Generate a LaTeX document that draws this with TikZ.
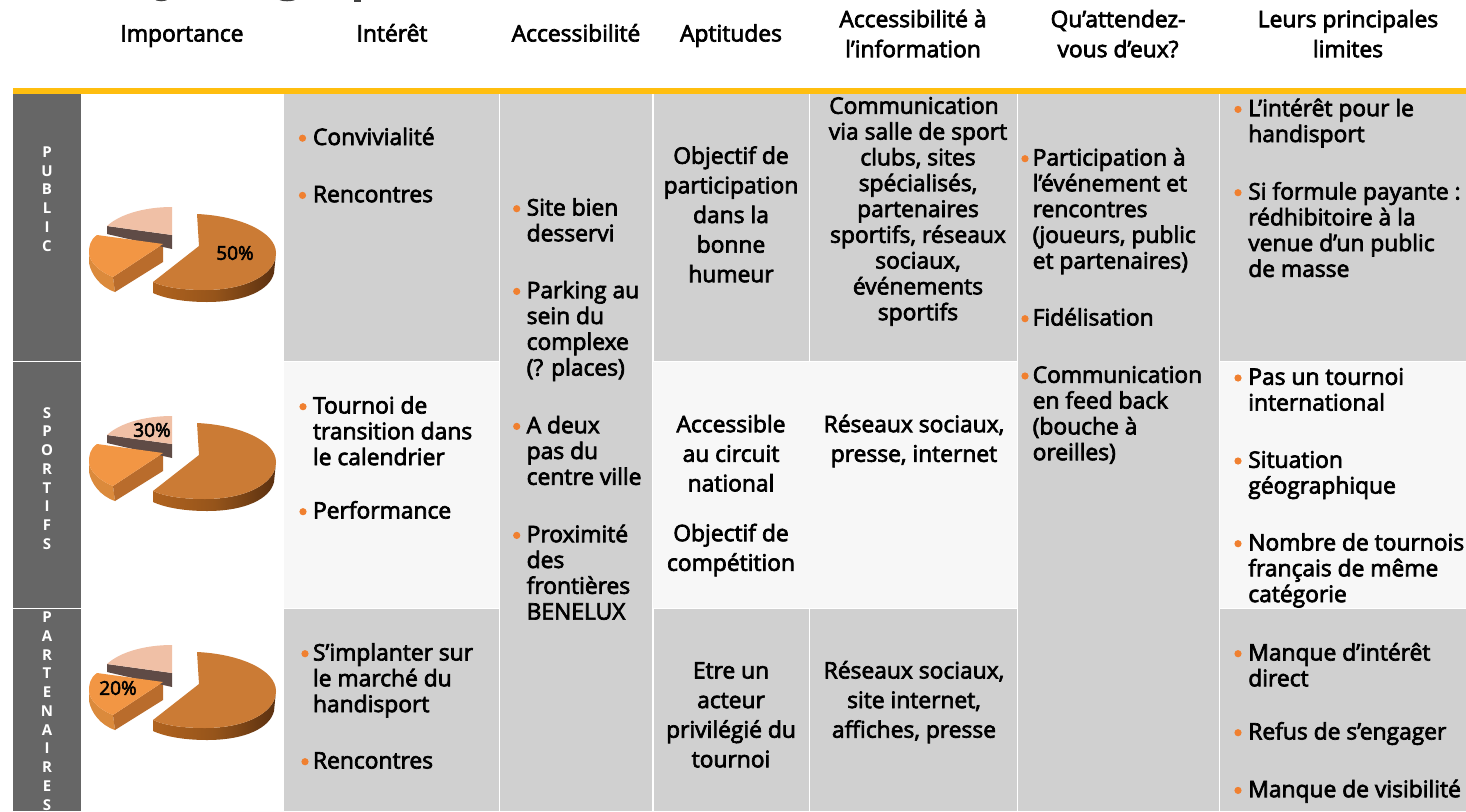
\documentclass[tikz,border=0pt]{standalone}
\usepackage{fontspec}
\setmainfont[FakeBold=3]{Open Sans}
\newfontfamily\boldface{Open Sans Bold}
\usetikzlibrary{calc}
\definecolor{cellgrey}{HTML}{D0D0D0}
\definecolor{celllight}{HTML}{F7F7F7}
\definecolor{band}{HTML}{666666}
\definecolor{goldbar}{HTML}{FFBE0F}
\definecolor{bul}{HTML}{F08030}
\definecolor{slA}{HTML}{CB7B35}
\definecolor{slAl}{HTML}{B0631F}
\definecolor{slAd}{HTML}{5A3010}
\definecolor{slB}{HTML}{F29644}
\definecolor{slBs}{HTML}{B96C2C}
\definecolor{slBo}{HTML}{DB8A3C}
\definecolor{slC}{HTML}{F0C0A6}
\definecolor{slCs}{HTML}{5F4B46}
\newcommand\lh[1]{\fontsize{22.8}{#1}\selectfont}
\tikzset{
  cell/.style={inner sep=0pt,outer sep=0pt,text=black},
  lefttxt/.style={cell,anchor=north west,align=left,font=\lh{25.8}},
  midtxt/.style={cell,anchor=north,align=center,font=\lh{29.6}},
  midtight/.style={cell,anchor=north,align=center,font=\lh{25.8}},
  headtxt/.style={cell,anchor=north,align=center,font=\lh{30}},
  pct/.style={cell,anchor=center,font=\fontsize{19}{20}\selectfont},
  vert/.style={cell,anchor=center,align=center,text=white,font=\boldface\fontsize{15}{18.75}\selectfont},
  gcell/.style={fill=cellgrey},
  lcell/.style={fill=celllight}
}
\newcommand\rl{\rule{0pt}{20pt}}
\newcommand\itm[5]{% name, bullet x, text x, baseline, text
  \fill[bul] (#2,#4-6.3) circle (3.6);
  \node[lefttxt] (#1) at (#3,#4-19.5) {\rl #5};}
\newcommand\ctr[5][midtxt]{% style, name, x, baseline, text
  \node[#1] (#2) at (#3,#4-19.5) {\rl #5};}
\newcommand\pieshape[1]{% offset
  \begin{scope}[shift={(0,#1)}]
    % big slice
    \path[left color=slAl,right color=slAd,middle color=slAl!85!black]
      (153,282) -- (153,293) .. controls (166,299) and (186,302) .. (207,302)
      .. controls (245,302) and (270,290) .. (274,273) -- (276,253)
      .. controls (276,275) and (245,290) .. (205,290)
      .. controls (185,290) and (166,288) .. (153,282) -- cycle;
    \fill[slA] (197,214) .. controls (240,216) and (276,232) .. (276,253)
      .. controls (276,275) and (245,290) .. (205,290)
      .. controls (185,290) and (166,288) .. (153,282) -- (199,246) -- cycle;
    % medium slice
    \fill[slBo] (89,253) .. controls (89,262) and (100,272) .. (113,277)
      -- (115,292) .. controls (100,287) and (91,274) .. (89,263) -- cycle;
    \fill[slBs] (113,277) -- (115,292) -- (163,262) -- (163,244) -- cycle;
    % small slice
    \fill[slCs] (107,226) -- (172,235) -- (172,249) -- (107,234) -- cycle;
    \fill[slC] (172,207) -- (172,235) -- (107,226)
      .. controls (120,214) and (145,207) .. (172,207) -- cycle;
    \fill[slB] (163,244) -- (97,235) .. controls (90,240) and (89,246) .. (89,253)
      .. controls (89,262) and (100,272) .. (113,277) -- cycle;
  \end{scope}}
\begin{document}
\begin{tikzpicture}[x=1pt,y=-1pt]
\useasboundingbox (0,0) rectangle (1466,811);
\fill[white] (0,0) rectangle (1466,811);
% clipped remains of the title
\begin{scope}
\clip (0,0) rectangle (1466,3);
\draw[black!75,line width=1.3] (154,-2) .. controls (156,1.5) and (166,1.5) .. (169,-2);
\draw[black!75,line width=1.3] (278,-2) .. controls (280,1.5) and (294,1.5) .. (297,-2);
\draw[black!75,line width=1.3] (354,1) -- (361,1);
\end{scope}
% left band
\fill[band] (13,94) rectangle (80.5,361);
\fill[band] (13,362) rectangle (80.5,608);
\fill[band] (13,609) rectangle (80.5,811);
% row 1 cells
\fill[gcell] (284,94) rectangle (498.5,361);
\fill[gcell] (654,94) rectangle (808.5,361);
\fill[gcell] (810,94) rectangle (1017,361);
\fill[gcell] (1220,94) rectangle (1466,361);
% row 2 cells
\fill[lcell] (284,362) rectangle (499,608);
\fill[lcell] (652.5,362) rectangle (1017,608);
\fill[lcell] (1220,362) rectangle (1466,608);
% row 3 cells
\fill[gcell] (284,609) rectangle (498.5,811);
\fill[gcell] (654,609) rectangle (808.5,811);
\fill[gcell] (810,609) rectangle (1017,811);
\fill[gcell] (1220,609) rectangle (1466,811);
% spanning cols
\fill[gcell] (500,94) rectangle (652,811);
\fill[gcell] (1018,94) rectangle (1219,811);
% gold bar
\fill[goldbar] (13,88) rectangle (1466,94);
% headers
\ctr[headtxt]{hImp}{182}{41}{Importance}
\ctr[headtxt]{hInt}{392}{41}{Intérêt}
\ctr[headtxt]{hAcc}{576}{41}{Accessibilité}
\ctr[headtxt]{hApt}{731}{41}{Aptitudes}
\ctr[headtxt]{hInf}{913}{26.7}{Accessibilité à\\l’information}
\ctr[headtxt]{hAtt}{1118}{26.7}{Qu’attendez-\\vous d’eux?}
\ctr[headtxt]{hLim}{1348}{26.7}{Leurs principales\\limites}
% band labels
\node[vert] (vPub) at (47,199) {P\\U\\B\\L\\I\\C};
\node[vert] (vSpo) at (47,478.5) {S\\P\\O\\R\\T\\I\\F\\S};
\node[vert] (vPar) at (47,711) {P\\A\\R\\T\\E\\N\\A\\I\\R\\E\\S};
% pies
\pieshape{0}
\pieshape{209}
\pieshape{438}
\node[pct] (pA) at (235,253) {50\%};
\node[pct] (pB) at (152,430) {30\%};
\node[pct] (pC) at (118,688) {20\%};
% interet
\itm{i1}{302.5}{313}{144.5}{Convivialité}
\itm{i2}{302.5}{313}{201.7}{Rencontres}
\itm{i3}{303}{313}{413}{Tournoi de\\transition dans\\le calendrier}
\itm{i4}{303}{313}{518}{Performance}
\itm{i5}{305}{313}{660}{S’implanter sur\\le marché du\\handisport}
\itm{i6}{305}{313}{768}{Rencontres}
% accessibilite
\itm{a1}{516.7}{526.7}{215}{Site bien\\desservi}
\itm{a2}{516.7}{526.7}{297.7}{Parking au\\sein du\\complexe\\(? places)}
\itm{a3}{516.7}{526.7}{432.7}{A deux\\pas du\\centre ville}
\itm{a4}{516.7}{526.7}{541.7}{Proximité\\des\\frontières\\BENELUX}
% aptitudes
\ctr{t1}{731}{163.3}{Objectif de\\participation\\dans la\\bonne\\humeur}
\ctr{t2}{731}{431.7}{Accessible\\au circuit\\national}
\ctr{t3}{731}{540.7}{Objectif de\\compétition}
\ctr{t4}{731}{678}{Etre un\\acteur\\privilégié du\\tournoi}
% information
\ctr[midtight]{f1}{918}{113.3}{Communication\hspace*{8pt}\\via salle de sport\hspace*{8pt}\\clubs, sites\\spécialisés,\\partenaires\\sportifs, réseaux\\sociaux,\\événements\\sportifs}
\ctr{f2}{914}{431.7}{Réseaux sociaux,\\presse, internet}
\ctr{f3}{914}{678}{Réseaux sociaux,\\site internet,\\affiches, presse}
% attendez
\itm{q1}{1025}{1032.7}{165}{Participation à\\l’événement et\\rencontres\\(joueurs, public\\et partenaires)}
\itm{q2}{1025}{1032.7}{325}{Fidélisation}
\itm{q3}{1025}{1032.7}{382.3}{Communication\\en feed back\\(bouche à\\oreilles)}
% limites
\itm{l1}{1238}{1248.3}{115.7}{L’intérêt pour le\\handisport}
\itm{l2}{1238}{1248.3}{199}{Si formule payante :\\rédhibitoire à la\\venue d’un public\\de masse}
\itm{l3}{1238}{1248.3}{384.3}{Pas un tournoi\\international}
\itm{l4}{1238}{1248.3}{467.3}{Situation\\géographique}
\itm{l5}{1238}{1248.3}{550}{Nombre de tournois\\français de même\\catégorie}
\itm{l6}{1238}{1248.3}{660}{Manque d’intérêt\\direct}
\itm{l7}{1238}{1248.3}{739}{Refus de s’engager}
\itm{l8}{1238}{1248.3}{796.7}{Manque de visibilité}
\end{tikzpicture}
\end{document}
